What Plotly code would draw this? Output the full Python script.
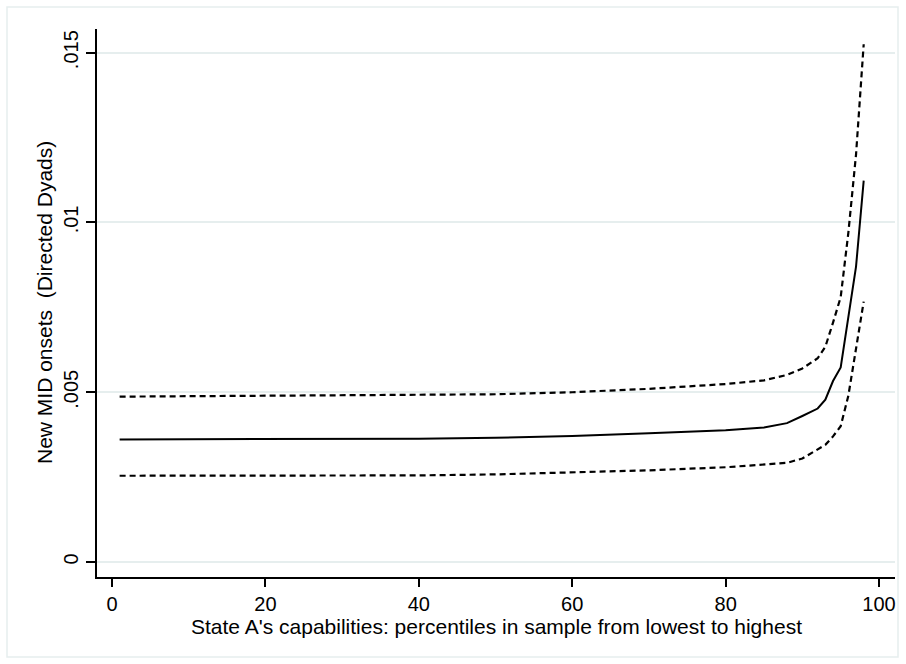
import plotly.graph_objects as go

# Percentile of State A's capabilities
pct = [1, 10, 20, 30, 40, 50, 60, 70, 80, 85, 88, 90, 92, 93, 94, 95, 96, 97, 98]

# Predicted probability of new MID onset and 95% bounds
pred = [0.00361, 0.00361, 0.00362, 0.00362, 0.00363, 0.00366, 0.00371, 0.00379,
        0.00388, 0.00396, 0.00409, 0.00430, 0.00452, 0.00478, 0.00533, 0.00573,
        0.00720, 0.00870, 0.01123]
upper = [0.00487, 0.00488, 0.00489, 0.00490, 0.00492, 0.00494, 0.00500, 0.00510,
         0.00524, 0.00535, 0.00551, 0.00570, 0.00600, 0.00634, 0.00705, 0.00780,
         0.00970, 0.01200, 0.01525]
lower = [0.00254, 0.00254, 0.00255, 0.00255, 0.00255, 0.00258, 0.00263, 0.00270,
         0.00279, 0.00286, 0.00292, 0.00305, 0.00330, 0.00345, 0.00370, 0.00400,
         0.00490, 0.00630, 0.00767]

x_ticks = [0, 20, 40, 60, 80, 100]
x_ticktext = ["0", "20", "40", "60", "80", "100"]
y_ticks = [0, 0.005, 0.01, 0.015]
y_ticktext = ["0", ".005", ".01", ".015"]

x_title = "State A's capabilities: percentiles in sample from lowest to highest"
y_title = "New MID onsets  (Directed Dyads)"

FONT = "Liberation Sans, Arial, Helvetica, sans-serif"
GRID = "#e6eeee"

fig = go.Figure()
fig.add_trace(go.Scatter(x=pct, y=upper, mode="lines",
                         line=dict(color="black", width=2.2, dash="6px,4px"),
                         showlegend=False))
fig.add_trace(go.Scatter(x=pct, y=pred, mode="lines",
                         line=dict(color="black", width=2),
                         showlegend=False))
fig.add_trace(go.Scatter(x=pct, y=lower, mode="lines",
                         line=dict(color="black", width=2.2, dash="6px,4px"),
                         showlegend=False))

L, R, T, B = 97, 11, 29, 87
W, H = 906, 664
pw, ph = W - L - R, H - T - B

fig.update_layout(
    width=W, height=H,
    margin=dict(l=L, r=R, t=T, b=B, pad=0),
    paper_bgcolor="white", plot_bgcolor="white",
    font=dict(family=FONT, color="black"),
    xaxis=dict(range=[-1.95, 102.08], tickvals=x_ticks, ticktext=x_ticktext,
               showline=True, linecolor="black", linewidth=2,
               ticks="outside", ticklen=8, tickwidth=2, tickcolor="black",
               tickfont=dict(size=20, family=FONT), showgrid=False, zeroline=False),
    yaxis=dict(range=[-0.000442, 0.015698], tickvals=y_ticks, ticktext=y_ticktext,
               showline=True, linecolor="black", linewidth=2,
               ticks="outside", ticklen=9, tickwidth=2, tickcolor="black",
               tickangle=-90, tickfont=dict(size=20, family=FONT),
               showgrid=True, gridcolor=GRID, gridwidth=1.5, zeroline=False),
    annotations=[
        dict(text=x_title, xref="paper", yref="paper", x=0.5,
             y=(H - B - 626) / ph, xanchor="center", yanchor="middle",
             showarrow=False, font=dict(size=21, family=FONT, color="black")),
        dict(text=y_title, xref="paper", yref="paper", x=(44 - L) / pw,
             y=0.5, xanchor="center", yanchor="middle", textangle=-90,
             showarrow=False, font=dict(size=21, family=FONT, color="black")),
    ],
    shapes=[
        dict(type="rect", xref="paper", yref="paper",
             x0=(7 - L) / pw, x1=(898 - L) / pw,
             y0=(H - B - 657) / ph, y1=(H - B - 7) / ph,
             line=dict(color=GRID, width=1.5), fillcolor="rgba(0,0,0,0)",
             layer="below"),
    ],
)

fig.write_html(
    "out.html",
    config={"displayModeBar": False},
    post_script="document.body.style.margin='0';document.body.style.overflow='hidden';",
)
